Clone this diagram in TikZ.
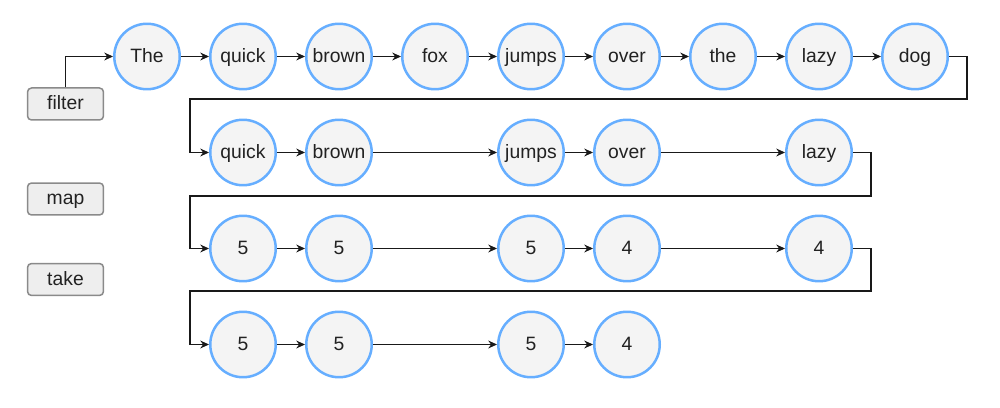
\documentclass[tikz,border=0pt]{standalone}
\usepackage{fontspec}
\setmainfont{Liberation Sans}
\usetikzlibrary{arrows.meta}
\definecolor{circblue}{HTML}{66AEFF}
\definecolor{circfill}{HTML}{F4F4F4}
\definecolor{boxfill}{HTML}{EEEEEE}
\definecolor{boxline}{HTML}{8A8A8A}
\definecolor{txt}{HTML}{222222}
\begin{document}
\begin{tikzpicture}[x=0.02cm,y=-0.02cm,
  word/.style={circle,draw=circblue,fill=circfill,line width=0.05cm,minimum size=1.31cm,inner sep=0pt,text=txt,text height=0.86em,text depth=0.2em,font=\fontsize{11}{13}\selectfont},
  opbox/.style={rectangle,rounded corners=0.08cm,draw=boxline,fill=boxfill,line width=0.03cm,minimum width=1.52cm,minimum height=0.64cm,inner sep=0pt,text=txt,text height=0.86em,text depth=0.2em,font=\fontsize{11}{13}\selectfont},
  link/.style={draw=black!90,line width=0.6pt,-{Stealth[length=5pt,width=4.5pt]}}]
\useasboundingbox (0,0) rectangle (1000,408);
% operation boxes
\node[opbox] (filter) at (65.5,104) {filter};
\node[opbox] (map) at (65.5,199) {map};
\node[opbox] (take) at (65.5,279.5) {take};
% row 1
\node[word] (a1) at (147,56.5) {The};
\node[word] (a2) at (243,56.5) {quick};
\node[word] (a3) at (339,56.5) {brown};
\node[word] (a4) at (435,56.5) {fox};
\node[word] (a5) at (531,56.5) {jumps};
\node[word] (a6) at (627,56.5) {over};
\node[word] (a7) at (723,56.5) {the};
\node[word] (a8) at (819,56.5) {lazy};
\node[word] (a9) at (915,56.5) {dog};
% row 2
\node[word] (b2) at (243,152.5) {quick};
\node[word] (b3) at (339,152.5) {brown};
\node[word] (b5) at (531,152.5) {jumps};
\node[word] (b6) at (627,152.5) {over};
\node[word] (b8) at (819,152.5) {lazy};
% row 3
\node[word] (c2) at (243,248.5) {5};
\node[word] (c3) at (339,248.5) {5};
\node[word] (c5) at (531,248.5) {5};
\node[word] (c6) at (627,248.5) {4};
\node[word] (c8) at (819,248.5) {4};
% row 4
\node[word] (d2) at (243,344.5) {5};
\node[word] (d3) at (339,344.5) {5};
\node[word] (d5) at (531,344.5) {5};
\node[word] (d6) at (627,344.5) {4};
% turn coordinates
\coordinate (t1a) at (967,56.5);
\coordinate (t1b) at (967,99);
\coordinate (t1c) at (190,99);
\coordinate (t1d) at (190,152.5);
\coordinate (t2a) at (871,152.5);
\coordinate (t2b) at (871,196);
\coordinate (t2c) at (190,196);
\coordinate (t2d) at (190,248.5);
\coordinate (t3a) at (871,248.5);
\coordinate (t3b) at (871,291);
\coordinate (t3c) at (190,291);
\coordinate (t3d) at (190,344.5);
\coordinate (f1) at (65.5,56.5);
% connectors
\draw[link] (filter.north) -- (f1) -- (a1.west);
\foreach \i/\j in {a1/a2,a2/a3,a3/a4,a4/a5,a5/a6,a6/a7,a7/a8,a8/a9,
  b2/b3,b3/b5,b5/b6,b6/b8, c2/c3,c3/c5,c5/c6,c6/c8, d2/d3,d3/d5,d5/d6}
  \draw[link] (\i) -- (\j);
\draw[link] (a9.east) -- (t1a) -- (t1b) -- (t1c) -- (t1d) -- (b2.west);
\draw[link] (b8.east) -- (t2a) -- (t2b) -- (t2c) -- (t2d) -- (c2.west);
\draw[link] (c8.east) -- (t3a) -- (t3b) -- (t3c) -- (t3d) -- (d2.west);
\end{tikzpicture}
\end{document}
